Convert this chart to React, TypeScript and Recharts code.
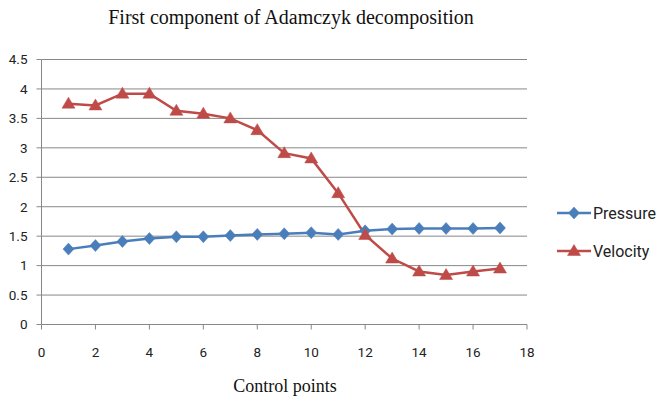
import React from 'react';
import { LineChart, Line, XAxis, YAxis, CartesianGrid } from 'recharts';

const controlPoints = [1, 2, 3, 4, 5, 6, 7, 8, 9, 10, 11, 12, 13, 14, 15, 16, 17];
const pressure = [1.28, 1.34, 1.41, 1.46, 1.49, 1.49, 1.51, 1.53, 1.54, 1.56, 1.53, 1.59, 1.62, 1.63, 1.63, 1.63, 1.64];
const velocity = [3.75, 3.72, 3.92, 3.92, 3.63, 3.58, 3.5, 3.3, 2.91, 2.82, 2.23, 1.52, 1.12, 0.9, 0.84, 0.9, 0.95];
const xTicks = [0, 2, 4, 6, 8, 10, 12, 14, 16, 18];
const yTicks = [0, 0.5, 1, 1.5, 2, 2.5, 3, 3.5, 4, 4.5];

const BLUE = '#4a7ebb';
const RED = '#be4b48';
const AXIS = '#888888';

const data = controlPoints.map((x, i) => ({ x, pressure: pressure[i], velocity: velocity[i] }));

const Diamond = (props: any) => {
  const { cx, cy } = props;
  if (cx == null || cy == null) return null;
  return <path d={`M${cx},${cy - 6}L${cx + 5.5},${cy}L${cx},${cy + 6}L${cx - 5.5},${cy}Z`} fill={BLUE} stroke={BLUE} strokeWidth={0.5} />;
};

const Triangle = (props: any) => {
  const { cx, cy } = props;
  if (cx == null || cy == null) return null;
  return <path d={`M${cx},${cy - 6.5}L${cx + 6.5},${cy + 4.5}L${cx - 6.5},${cy + 4.5}Z`} fill={RED} stroke={RED} strokeWidth={0.5} />;
};

const legendItems = [
  { name: 'Pressure', color: BLUE, Marker: Diamond },
  { name: 'Velocity', color: RED, Marker: Triangle },
];

// series key drawn to the right of the plot
const SeriesKey = () => (
  <div style={{ position: 'absolute', left: 557, top: 194, width: 101 }}>
    {legendItems.map(({ name, color, Marker }) => (
      <div key={name} style={{ display: 'flex', alignItems: 'center', height: 38 }}>
        <svg width={34} height={16}>
          <line x1={0} y1={8} x2={34} y2={8} stroke={color} strokeWidth={2.5} />
          <Marker cx={17} cy={8} />
        </svg>
        <span style={{ fontFamily: 'Roboto, sans-serif', fontSize: 16, color: '#222', marginLeft: 2 }}>{name}</span>
      </div>
    ))}
  </div>
);

export default function App() {
  return (
    <div style={{ position: 'absolute', left: 0, top: 0, width: 658, height: 399, background: '#fff' }}>
      <div
        style={{
          position: 'absolute',
          left: 0,
          width: 582,
          top: 6,
          textAlign: 'center',
          fontFamily: '"Liberation Serif", serif',
          fontSize: 20,
          color: '#111',
        }}
      >
        First component of Adamczyk decomposition
      </div>
      <LineChart
        width={658}
        height={399}
        data={data}
        margin={{ top: 59.5, right: 131, bottom: 0, left: 0 }}
      >
        <CartesianGrid vertical={false} stroke={AXIS} />
        <XAxis
          type="number"
          dataKey="x"
          domain={[0, 18]}
          ticks={xTicks}
          interval={0}
          height={74.5}
          stroke={AXIS}
          tickSize={5}
          tickMargin={18}
          tick={{ fill: '#222', fontFamily: 'Roboto, sans-serif', fontSize: 13.5 }}
        />
        <YAxis
          type="number"
          domain={[0, 4.5]}
          ticks={yTicks}
          interval={0}
          width={41.5}
          stroke={AXIS}
          tickSize={5}
          tickMargin={9}
          tick={{ fill: '#222', fontFamily: 'Roboto, sans-serif', fontSize: 13.5 }}
        />
        <Line
          dataKey="pressure"
          name="Pressure"
          stroke={BLUE}
          strokeWidth={2.5}
          dot={<Diamond />}
          activeDot={false}
          isAnimationActive={false}
        />
        <Line
          dataKey="velocity"
          name="Velocity"
          stroke={RED}
          strokeWidth={2.5}
          dot={<Triangle />}
          activeDot={false}
          isAnimationActive={false}
        />
      </LineChart>
      <SeriesKey />
      <div
        style={{
          position: 'absolute',
          left: 0,
          width: 570,
          top: 376,
          textAlign: 'center',
          fontFamily: '"Liberation Serif", serif',
          fontSize: 18,
          color: '#111',
        }}
      >
        Control points
      </div>
    </div>
  );
}
